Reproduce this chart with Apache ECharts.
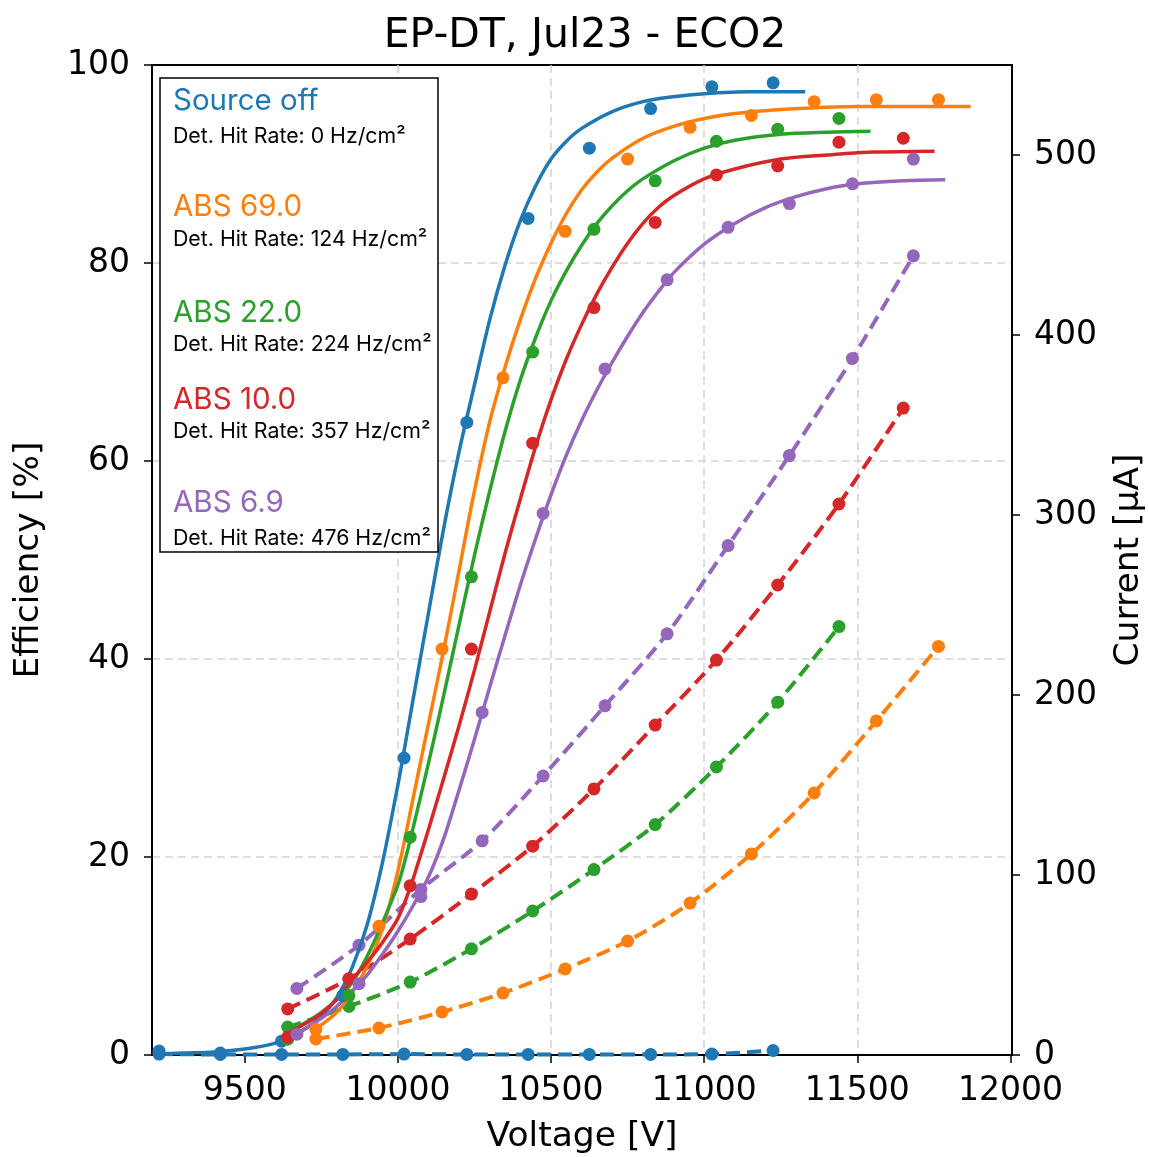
<!DOCTYPE html>
<html>
<head>
<meta charset="utf-8">
<script src="https://cdn.jsdelivr.net/npm/echarts@6/dist/echarts.min.js"></script>
<style>
html,body{margin:0;padding:0;background:#fff;}
#chart{width:1149px;height:1157px;}
</style>
</head>
<body>
<div id="chart"></div>
<script>
// ---------- data ----------
const xTicks = [9500, 10000, 10500, 11000, 11500, 12000];
const yRightTicks = [0, 100, 200, 300, 400, 500];

const seriesNames = ['Source off', 'ABS 69.0', 'ABS 22.0', 'ABS 10.0', 'ABS 6.9'];
const hitRates = ['Det. Hit Rate: 0 Hz/cm²', 'Det. Hit Rate: 124 Hz/cm²', 'Det. Hit Rate: 224 Hz/cm²', 'Det. Hit Rate: 357 Hz/cm²', 'Det. Hit Rate: 476 Hz/cm²'];

// Source off
const vBlue = [9220, 9420, 9620, 9820, 10020, 10225, 10425, 10625, 10825, 11025, 11225];
const effBlue = [0.4, 0.2, 1.4, 6.0, 30.0, 63.9, 84.5, 91.6, 95.6, 97.8, 98.2];
const curBlue = [0.5, 0.3, 0.3, 0.3, 0.5, 0.3, 0.3, 0.3, 0.3, 0.5, 2.5];
const fitBlueV = [9200, 9300, 9400, 9500, 9600, 9650, 9700, 9750, 9800, 9850, 9900, 9950, 10000, 10016, 10050, 10100, 10150, 10200, 10250, 10300, 10350, 10400, 10450, 10500, 10550, 10600, 10700, 10800, 10900, 11000, 11150, 11330];
const fitBlueE = [0.1, 0.2, 0.3, 0.6, 1.2, 1.8, 2.7, 3.9, 5.8, 8.8, 13.2, 19.5, 27.3, 30, 36, 44.7, 53.3, 61, 67.7, 74.3, 79.8, 84.3, 87.8, 90.5, 92.3, 93.6, 95.3, 96.3, 96.8, 97.1, 97.3, 97.3];

// ABS 69.0
const vOrange = [9732, 9938, 10144, 10343, 10546, 10750, 10954, 11154, 11359, 11562, 11765];
const effOrange = [2.6, 13.0, 41.0, 68.4, 83.2, 90.5, 93.7, 94.9, 96.3, 96.5, 96.5];
const curOrange = [8.9, 15.0, 23.9, 34.4, 47.8, 63.3, 84.4, 111.7, 145.6, 185.6, 227.0];
const fitOrangeV = [9730, 9800, 9850, 9900, 9950, 10000, 10050, 10100, 10150, 10200, 10250, 10300, 10350, 10400, 10450, 10500, 10550, 10600, 10650, 10700, 10800, 10900, 11000, 11100, 11250, 11500, 11870];
const fitOrangeE = [2.6, 4.3, 6.3, 9.0, 12.8, 18.6, 26, 33.5, 41, 49, 57, 64, 69.5, 74.3, 78.5, 82, 85, 87.4, 89.2, 90.6, 92.6, 93.8, 94.6, 95.1, 95.5, 95.8, 95.8];

// ABS 22.0
const vGreen = [9640, 9840, 10040, 10240, 10440, 10640, 10840, 11040, 11240, 11440];
const effGreen = [1.6, 6.0, 22.0, 48.3, 71.0, 83.4, 88.3, 92.3, 93.5, 94.6];
const curGreen = [15.5, 27.0, 40.5, 59.0, 80.0, 103.0, 128.0, 160.0, 196.0, 238.0];
const fitGreenV = [9640, 9700, 9750, 9800, 9850, 9900, 9950, 10000, 10026, 10050, 10100, 10150, 10200, 10250, 10300, 10350, 10400, 10450, 10500, 10550, 10600, 10650, 10700, 10750, 10800, 10900, 11000, 11100, 11250, 11400, 11543];
const fitGreenE = [2.4, 3.3, 4.3, 5.6, 7.3, 10.0, 13.4, 17.2, 20, 23.0, 29.5, 36.4, 43.5, 50.5, 57, 63, 68.2, 72.5, 76.2, 79.2, 81.8, 84, 85.8, 87.3, 88.5, 90.3, 91.6, 92.4, 93.0, 93.2, 93.3];

// ABS 10.0
const vRed = [9640, 9840, 10040, 10240, 10440, 10640, 10840, 11040, 11240, 11440, 11650];
const effRed = [1.8, 7.7, 17.1, 41.0, 61.8, 75.5, 84.1, 88.9, 89.8, 92.2, 92.6];
const curRed = [25.6, 42.2, 64.4, 89.4, 116.0, 147.8, 183.3, 219.4, 261.1, 306.1, 359.4];
const fitRedV = [9640, 9700, 9750, 9800, 9850, 9900, 9950, 10000, 10040, 10070, 10100, 10150, 10200, 10250, 10300, 10350, 10400, 10450, 10500, 10550, 10600, 10650, 10700, 10750, 10800, 10850, 10900, 11000, 11100, 11250, 11400, 11550, 11752];
const fitRedE = [2.2, 3.2, 4.2, 5.6, 7.6, 9.4, 11.4, 13.8, 16.9, 19.8, 22.8, 28, 33.3, 38.9, 44.8, 50.7, 56.2, 61.5, 66.2, 70.3, 73.8, 76.9, 79.6, 82.0, 84.0, 85.6, 86.8, 88.5, 89.5, 90.5, 90.9, 91.2, 91.3];

// ABS 6.9
const vPurple = [9670, 9873, 10075, 10275, 10474, 10676, 10879, 11078, 11278, 11484, 11683];
const effPurple = [2.1, 7.2, 16.0, 34.6, 54.7, 69.3, 78.3, 83.6, 86.0, 88.0, 90.5];
const curPurple = [37, 61, 92, 119, 155, 194, 234, 283, 333, 387, 444];
const fitPurpleV = [9670, 9750, 9800, 9873, 9900, 9950, 10000, 10050, 10100, 10150, 10200, 10250, 10300, 10350, 10400, 10450, 10500, 10550, 10600, 10650, 10700, 10750, 10800, 10850, 10900, 11000, 11100, 11200, 11300, 11400, 11500, 11650, 11787];
const fitPurpleE = [2.2, 3.7, 4.9, 7.2, 8.1, 10.2, 12.5, 15.1, 18.0, 21.9, 26.8, 31.9, 37.2, 42.4, 47.5, 52.2, 56.6, 60.6, 64.1, 67.2, 70, 72.6, 75, 77.1, 79, 81.9, 84, 85.6, 86.7, 87.5, 88, 88.3, 88.4];

// ---------- build ----------
const colors = ['#1f77b4', '#ff7f0e', '#2ca02c', '#d62728', '#9467bd'];
const groups = [
  {v: vBlue, e: effBlue, c: curBlue, fv: fitBlueV, fe: fitBlueE},
  {v: vOrange, e: effOrange, c: curOrange, fv: fitOrangeV, fe: fitOrangeE},
  {v: vGreen, e: effGreen, c: curGreen, fv: fitGreenV, fe: fitGreenE},
  {v: vRed, e: effRed, c: curRed, fv: fitRedV, fe: fitRedE},
  {v: vPurple, e: effPurple, c: curPurple, fv: fitPurpleV, fe: fitPurpleE}
];
const zip = (a, b) => a.map((x, i) => [x, b[i]]);

const series = [];
groups.forEach((g, i) => {
  const col = colors[i];
  series.push({
    type: 'line', name: seriesNames[i] + ' current', yAxisIndex: 1,
    data: zip(g.v, g.c), smooth: 0.25, symbol: 'circle', symbolSize: 13,
    itemStyle: {color: col}, lineStyle: {color: col, width: 4, type: [14, 7]},
    z: 3
  });
  series.push({
    type: 'line', name: seriesNames[i] + ' fit', yAxisIndex: 0,
    data: zip(g.fv, g.fe), smooth: 0.3, showSymbol: false, symbol: 'none',
    lineStyle: {color: col, width: 3.5}, z: 4
  });
  series.push({
    type: 'scatter', name: seriesNames[i], yAxisIndex: 0,
    data: zip(g.v, g.e), symbol: 'circle', symbolSize: 13,
    itemStyle: {color: col, opacity: 1}, z: 5
  });
});

const font = 'DejaVu Sans';
const legendFont = 'Inter';
const graphic = [{
  type: 'rect', shape: {x: 160, y: 78, width: 278, height: 474},
  style: {fill: '#fff', stroke: '#000', lineWidth: 1.5}, z: 100
}];
const nameY = [101, 207, 313, 400, 503];
const rateY = [137, 240, 345, 432, 539];
seriesNames.forEach((n, i) => {
  graphic.push({type: 'text', x: 173, y: nameY[i], z: 101,
    style: {text: n, fill: colors[i], fontSize: 29.5, fontFamily: legendFont, align: 'left', verticalAlign: 'middle'}});
  graphic.push({type: 'text', x: 173, y: rateY[i], z: 101,
    style: {text: hitRates[i], fill: '#000', fontSize: 21.3, fontFamily: legendFont, align: 'left', verticalAlign: 'middle'}});
});

const plain = v => String(v);
const chart = echarts.init(document.getElementById('chart'), null, {renderer: 'canvas'});
chart.setOption({
  animation: false,
  backgroundColor: '#fff',
  title: {
    text: 'EP-DT, Jul23 - ECO2', left: 580, top: 11, textAlign: 'center',
    textStyle: {fontFamily: font, fontSize: 41, fontWeight: 'normal', color: '#000'}
  },
  grid: {left: 152, right: 137, top: 65, bottom: 102, containLabel: false, outerBoundsMode: 'none',
    show: true, borderColor: '#000', borderWidth: 2, backgroundColor: 'transparent'},
  xAxis: {
    type: 'value', min: 9197, max: 12005,
    name: 'Voltage [V]', nameLocation: 'middle', nameGap: 65,
    nameTextStyle: {fontFamily: font, fontSize: 34.5, color: '#000'},
    axisLine: {show: true, lineStyle: {color: '#000', width: 2}},
    axisTick: {show: true, inside: false, length: 8, customValues: xTicks, lineStyle: {color: '#000', width: 1.5}},
    axisLabel: {customValues: xTicks, formatter: plain, fontFamily: font, fontSize: 33, color: '#000', margin: 20},
    splitLine: {show: true, showMinLine: false, showMaxLine: false, lineStyle: {color: '#d3d3d3', width: 1.5, type: [8, 5]}}
  },
  yAxis: [{
    type: 'value', min: 0, max: 100, interval: 20, position: 'left',
    name: 'Efficiency [%]', nameLocation: 'middle', nameGap: 105, nameRotate: 90,
    nameTextStyle: {fontFamily: font, fontSize: 34.5, color: '#000'},
    axisLine: {show: true, lineStyle: {color: '#000', width: 2}},
    axisTick: {show: true, inside: false, length: 8, lineStyle: {color: '#000', width: 1.5}},
    axisLabel: {formatter: plain, fontFamily: font, fontSize: 33, color: '#000', margin: 22},
    splitLine: {show: true, showMinLine: false, showMaxLine: false, lineStyle: {color: '#d3d3d3', width: 1.5, type: [8, 5]}}
  }, {
    type: 'value', min: 0, max: 550, position: 'right',
    name: 'Current [μA]', nameLocation: 'middle', nameGap: 100, nameRotate: 90,
    nameTextStyle: {fontFamily: font, fontSize: 34.5, color: '#000'},
    axisLine: {show: true, lineStyle: {color: '#000', width: 2}},
    axisTick: {show: true, inside: false, length: 8, customValues: yRightTicks, lineStyle: {color: '#000', width: 1.5}},
    axisLabel: {customValues: yRightTicks, formatter: plain, fontFamily: font, fontSize: 33, color: '#000', margin: 22},
    splitLine: {show: false}
  }],
  graphic: graphic,
  series: series
});
</script>
</body>
</html>
